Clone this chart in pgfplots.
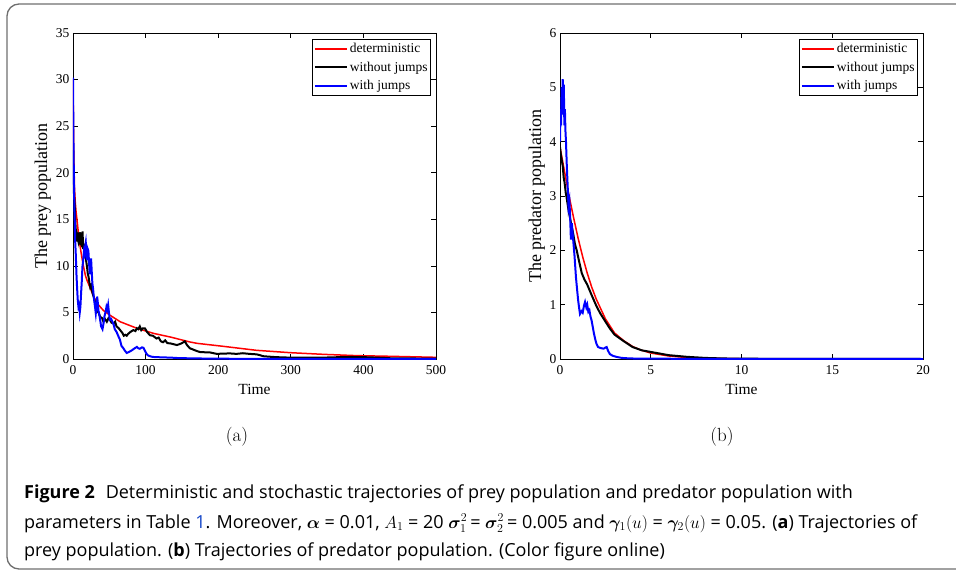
\documentclass[border=0pt]{standalone}
\usepackage{amsmath,bm}
\usepackage{fontspec}
\usepackage{pgfplots}
\pgfplotsset{compat=1.18}
\setmainfont{Liberation Serif}
\newfontfamily\lmr{Latin Modern Roman}
\newfontfamily\capfont{Open Sans}
\definecolor{framegray}{RGB}{110,110,110}
\definecolor{linkblue}{RGB}{20,70,200}

\pgfplotsset{
  trajaxis/.style={
    scale only axis, width=363pt, height=326pt,
    axis line style={line width=0.9pt},
    every tick/.style={black, line width=0.7pt},
    tick align=inside, major tick length=5pt,
    /pgf/number format/assume math mode=true,
    tick label style={font=\fontsize{13.5}{13.5}\selectfont},
    xticklabel style={yshift=-3pt},
    xlabel style={font=\fontsize{15.5}{15.5}\selectfont, yshift=-3pt},
    ylabel style={font=\fontsize{18}{18}\selectfont, yshift=-2pt},
    legend cell align=left,
    legend style={at={(1,1)}, anchor=north east, xshift=-5pt, yshift=-6pt,
      draw=black, line width=0.9pt, fill=white,
      font=\fontsize{13.5}{14}\selectfont, inner xsep=1pt, inner ysep=2pt,
      nodes={inner xsep=2pt, inner ysep=2pt}, row sep=3.5pt},
    legend image code/.code={\draw[#1] (0pt,0pt) -- (32pt,0pt);},
  },
  detline/.style={red, line width=1.5pt},
  nojline/.style={black, line width=2pt},
  jline/.style={blue, line width=2pt},
}

\begin{document}
\begin{tikzpicture}
\useasboundingbox (0pt,0pt) rectangle (956pt,-572pt);
\begin{scope}
\clip (0pt,0pt) rectangle (956pt,-572pt);
\draw[framegray, line width=1.3pt, rounded corners=12pt] (7pt,-4pt) rectangle (990pt,-569pt);
\end{scope}

% (a) prey
\begin{axis}[trajaxis, at={(73pt,-359pt)}, anchor=south west,
  xmin=0, xmax=500, ymin=0, ymax=35,
  xtick={0,100,...,500}, ytick={0,5,...,35},
  xlabel={Time}, ylabel={The prey population}]
\addplot[detline] coordinates {
(0,30)(0.5,26)(1,22.5)(2,18.5)(3,17)(4,16)(6,14.6)(8,13.1)(10,12)(12,11)
(14.6,9.9)(17,9)(19.3,8.45)(23.8,7.6)(28,6.8)(33,6.0)(42,5.2)(51,4.7)(65,4.0)
(88,3.3)(111,2.75)(134,2.36)(161,1.83)(171,1.68)(207,1.36)(253,0.93)(299,0.68)
(345,0.5)(391,0.36)(437,0.29)(500,0.18)};
\addlegendentry{deterministic}
\addplot[nojline] coordinates {
(0,22.4)(0.5,20)(1,18.5)(1.5,17.5)(2.4,16.3)(3,15)(3.6,14.2)(4.2,13.1)(4.7,13.5)
(5.3,12.6)(6,13.2)(7,12.8)(7.6,13.6)(8.3,12.3)(9,13)(10,13.6)(10.8,12.2)(11.6,13.3)
(12.5,12)(13.2,13.7)(13.9,11.8)(14.6,12.4)(15.5,11.5)(16.2,12.3)(16.9,11.7)(18,10.6)
(19.3,9.9)(20.3,9.2)(21.5,8.8)(22.6,8.2)(23.8,7.7)(25,7.9)(26.1,7.4)(27.2,7.0)
(28.4,6.7)(30,6.2)(31.5,5.6)(33,5.2)(35,5.0)(37.6,4.5)(40,4.4)(42,4.0)(44,4.3)
(46.6,4.0)(49,4.4)(51,4.3)(53,3.9)(56,3.8)(58,4.0)(60,3.5)(63,3.3)(65,3.1)(68,2.8)
(70,2.5)(72,2.6)(74,2.5)(76,2.7)(79,2.9)(83,3.1)(86,3.0)(88,3.3)(90,3.2)(92,3.5)
(94,3.1)(96,3.3)(99,3.3)(102,2.9)(106,2.55)(110,2.5)(115,2.2)(118,2.3)(121,1.9)
(124,1.8)(127,2.0)(130,1.7)(134,1.68)(138,1.6)(143,1.5)(147,1.6)(150,1.7)(154,1.9)
(157,1.5)(161,1.15)(166,1.0)(171,0.84)(175,0.75)(182,0.72)(189,0.7)(198,0.55)
(207,0.58)(216,0.6)(225,0.55)(234,0.62)(243,0.55)(253,0.5)(258,0.4)(262,0.3)
(270,0.25)(280,0.2)(290,0.17)(299,0.15)(320,0.14)(345,0.15)(368,0.2)(382,0.22)
(400,0.2)(418,0.15)(437,0.08)(460,0.06)(500,0.04)};
\addlegendentry{without jumps}
\addplot[jline] coordinates {
(0,30.2)(0.3,27)(0.6,23.8)(1,21)(1.5,18)(2,16)(2.4,14.9)(3.1,12.5)(3.8,11.3)
(4.7,9.2)(5.6,7.7)(6.5,6.4)(7.5,5.6)(8.4,5.8)(9.3,5.0)(10.2,5.6)(11.1,7.0)(12,8.2)
(13,9.9)(13.9,10.5)(14.8,11.3)(15.7,10.8)(16.6,12.0)(17.6,12.5)(18.5,11.4)(19.4,10.6)
(20.3,11.8)(21.2,11.6)(22.2,10.2)(23.1,9.1)(24,10.2)(24.9,10.8)(25.8,9.4)(26.7,8.1)
(27.6,7.6)(28.6,6.7)(29.5,6.1)(30.5,5.5)(31.4,4.9)(32.3,5.6)(33.2,6.7)(34,6.2)
(35,5.2)(36,4.9)(37,4.4)(38,3.9)(38.7,3.5)(40.6,3.2)(42,3.8)(43.4,4.6)(45,5.1)
(46.1,5.6)(47.3,5.3)(48.4,5.8)(49.5,5.0)(50.7,4.2)(52.5,4.3)(54.4,4.0)(56,3.7)
(57.6,3.2)(60,2.9)(62.2,2.5)(64.5,2.1)(66.8,1.4)(69,1.2)(71.4,0.9)(74,0.65)(77,0.75)
(81,0.93)(84,1.1)(88,1.3)(90,1.15)(92,1.1)(95,1.25)(97,1.2)(99,0.9)(101,0.6)
(103,0.4)(106,0.3)(110,0.22)(115,0.2)(125,0.17)(134,0.15)(145,0.1)(157,0.08)
(180,0.05)(200,0.03)(250,0.02)(300,0.01)(500,0.005)};
\addlegendentry{with jumps}
\end{axis}

% (b) predator
\begin{axis}[trajaxis, at={(560pt,-359pt)}, anchor=south west,
  xmin=0, xmax=20, ymin=0, ymax=6,
  xtick={0,5,...,20}, ytick={0,1,...,6},
  xlabel={Time}, ylabel={The predator population}]
\addplot[detline] coordinates {
(0,3.9)(0.25,3.45)(0.5,3.0)(0.75,2.6)(1,2.22)(1.25,1.88)(1.5,1.58)(1.75,1.32)
(2,1.1)(2.5,0.74)(3,0.48)(3.5,0.34)(4,0.23)(4.5,0.16)(5,0.11)(6,0.055)(7,0.027)
(8,0.013)(10,0.004)(15,0.001)(20,0)};
\addlegendentry{deterministic}
\addplot[nojline] coordinates {
(0,3.9)(0.05,3.75)(0.1,3.65)(0.15,3.55)(0.2,3.35)(0.25,3.25)(0.28,3.17)(0.32,3.05)
(0.36,2.98)(0.42,2.85)(0.48,2.72)(0.55,2.6)(0.62,2.48)(0.73,2.3)(0.82,2.12)(0.92,2.0)
(1.05,1.8)(1.2,1.58)(1.35,1.46)(1.5,1.37)(1.75,1.17)(2,0.98)(2.2,0.85)(2.5,0.69)
(2.75,0.56)(3,0.45)(3.5,0.33)(4,0.22)(4.5,0.16)(5,0.13)(5.5,0.1)(6,0.07)(7,0.04)
(8,0.02)(9,0.01)(10,0.006)(12,0.003)(15,0.001)(20,0)};
\addlegendentry{without jumps}
\addplot[jline] coordinates {
(0,4.0)(0.03,4.6)(0.06,4.3)(0.09,5.0)(0.12,4.5)(0.15,5.15)(0.18,4.8)(0.21,5.05)
(0.24,4.3)(0.27,4.6)(0.3,4.2)(0.33,4.0)(0.37,3.6)(0.42,3.2)(0.47,2.8)(0.52,2.9)
(0.56,2.6)(0.6,2.2)(0.65,2.5)(0.7,2.3)(0.75,2.1)(0.8,1.9)(0.88,1.5)(0.95,1.25)
(1.0,1.08)(1.05,0.95)(1.1,0.83)(1.18,0.88)(1.25,0.85)(1.32,0.98)(1.38,1.05)(1.45,0.95)
(1.5,1.0)(1.56,0.87)(1.62,0.9)(1.68,0.78)(1.74,0.71)(1.8,0.6)(1.87,0.47)(1.95,0.35)
(2.02,0.27)(2.1,0.22)(2.25,0.2)(2.4,0.19)(2.5,0.21)(2.57,0.22)(2.65,0.15)(2.75,0.09)
(2.9,0.06)(3.1,0.04)(3.4,0.02)(3.85,0.01)(5,0.005)(20,0)};
\addlegendentry{with jumps}
\end{axis}

\node[font=\lmr\fontsize{19}{19}\selectfont] at (237pt,-437pt) {(a)};
\node[font=\lmr\fontsize{19}{19}\selectfont] at (722pt,-437pt) {(b)};

\begin{scope}[every node/.style={anchor=base west, inner sep=0pt,
  font=\capfont\fontsize{18}{18}\selectfont}]
\node at (24pt,-498pt) {\textbf{Figure 2}\hspace{0.6em}Deterministic and stochastic trajectories of prey population and predator population with};
\node at (24pt,-528pt) {parameters in Table {\color{linkblue}1}. Moreover, $\bm{\alpha}$ = 0.01, $A_{1}$ = 20 $\bm{\sigma}^{2}_{1}$\,= $\bm{\sigma}^{2}_{2}$\,= 0.005 and $\bm{\gamma}_{1}(u)$ = $\bm{\gamma}_{2}(u)$ = 0.05. (\textbf{a}) Trajectories of};
\node at (24pt,-556pt) {prey population. (\textbf{b}) Trajectories of predator population. (Color figure online)};
\end{scope}
\end{tikzpicture}
\end{document}
